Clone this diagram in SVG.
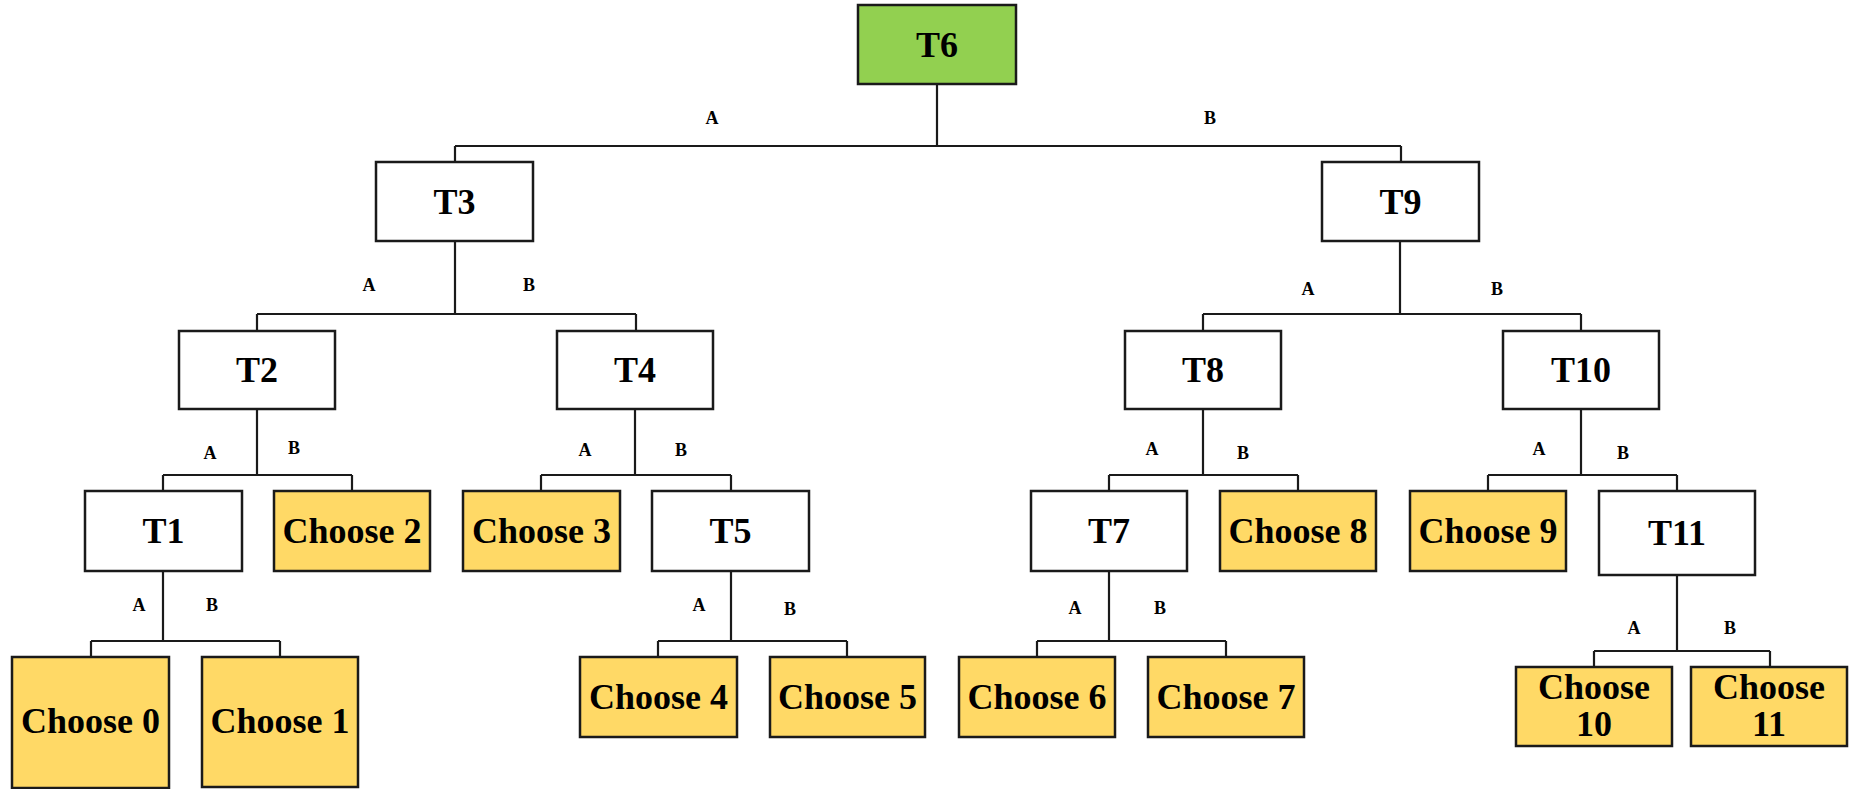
<svg xmlns="http://www.w3.org/2000/svg" width="1851" height="789" viewBox="0 0 1851 789">
<style>
.box{stroke:#1a1a1a;stroke-width:2.5}
.w{fill:#ffffff}
.y{fill:#FFD966}
.g{fill:#92D050}
.t{font-family:"Liberation Serif","Times New Roman",serif;font-weight:bold;font-size:36px;text-anchor:middle;fill:#000}
.l{font-family:"Liberation Serif","Times New Roman",serif;font-weight:bold;font-size:18px;text-anchor:middle;fill:#000}
.c{fill:none;stroke:#1a1a1a;stroke-width:2.2}
</style>
<rect width="1851" height="789" fill="#ffffff"/>
<g id="connectors">
<path class="c" d="M937,84 V146 M455,146 H1401 M455,146 V162 M1401,146 V162"/>
<path class="c" d="M455,241 V314 M257,314 H636 M257,314 V331 M636,314 V331"/>
<path class="c" d="M1400,241 V314 M1203,314 H1581 M1203,314 V331 M1581,314 V331"/>
<path class="c" d="M257,409 V475 M163,475 H352 M163,475 V491 M352,475 V491"/>
<path class="c" d="M635,409 V475 M541,475 H731 M541,475 V491 M731,475 V491"/>
<path class="c" d="M1203,409 V475 M1109,475 H1298 M1109,475 V491 M1298,475 V491"/>
<path class="c" d="M1581,409 V475 M1488,475 H1677 M1488,475 V491 M1677,475 V491"/>
<path class="c" d="M163,571 V641 M91,641 H280 M91,641 V657 M280,641 V657"/>
<path class="c" d="M731,571 V641 M658,641 H847 M658,641 V657 M847,641 V657"/>
<path class="c" d="M1109,571 V641 M1037,641 H1226 M1037,641 V657 M1226,641 V657"/>
<path class="c" d="M1677,575 V651 M1594,651 H1770 M1594,651 V667 M1770,651 V667"/>
<text class="l" x="712" y="124">A</text>
<text class="l" x="1210" y="124">B</text>
<text class="l" x="369" y="291">A</text>
<text class="l" x="529" y="291">B</text>
<text class="l" x="1308" y="295">A</text>
<text class="l" x="1497" y="295">B</text>
<text class="l" x="210" y="459">A</text>
<text class="l" x="294" y="454">B</text>
<text class="l" x="585" y="456">A</text>
<text class="l" x="681" y="456">B</text>
<text class="l" x="1152" y="455">A</text>
<text class="l" x="1243" y="459">B</text>
<text class="l" x="1539" y="455">A</text>
<text class="l" x="1623" y="459">B</text>
<text class="l" x="139" y="611">A</text>
<text class="l" x="212" y="611">B</text>
<text class="l" x="699" y="611">A</text>
<text class="l" x="790" y="615">B</text>
<text class="l" x="1075" y="614">A</text>
<text class="l" x="1160" y="614">B</text>
<text class="l" x="1634" y="634">A</text>
<text class="l" x="1730" y="634">B</text>
</g>
<g id="T6"><rect class="box g" x="858" y="5" width="158" height="79"/><text class="t" x="937" y="57">T6</text></g>
<g id="T3"><rect class="box w" x="376" y="162" width="157" height="79"/><text class="t" x="454.5" y="214">T3</text></g>
<g id="T9"><rect class="box w" x="1322" y="162" width="157" height="79"/><text class="t" x="1400.5" y="214">T9</text></g>
<g id="T2"><rect class="box w" x="179" y="331" width="156" height="78"/><text class="t" x="257" y="382">T2</text></g>
<g id="T4"><rect class="box w" x="557" y="331" width="156" height="78"/><text class="t" x="635" y="382">T4</text></g>
<g id="T8"><rect class="box w" x="1125" y="331" width="156" height="78"/><text class="t" x="1203" y="382">T8</text></g>
<g id="T10"><rect class="box w" x="1503" y="331" width="156" height="78"/><text class="t" x="1581" y="382">T10</text></g>
<g id="T1"><rect class="box w" x="85" y="491" width="157" height="80"/><text class="t" x="163.5" y="543">T1</text></g>
<g id="Choose2"><rect class="box y" x="274" y="491" width="156" height="80"/><text class="t" x="352" y="543">Choose 2</text></g>
<g id="Choose3"><rect class="box y" x="463" y="491" width="157" height="80"/><text class="t" x="541.5" y="543">Choose 3</text></g>
<g id="T5"><rect class="box w" x="652" y="491" width="157" height="80"/><text class="t" x="730.5" y="543">T5</text></g>
<g id="T7"><rect class="box w" x="1031" y="491" width="156" height="80"/><text class="t" x="1109" y="543">T7</text></g>
<g id="Choose8"><rect class="box y" x="1220" y="491" width="156" height="80"/><text class="t" x="1298" y="543">Choose 8</text></g>
<g id="Choose9"><rect class="box y" x="1410" y="491" width="156" height="80"/><text class="t" x="1488" y="543">Choose 9</text></g>
<g id="T11"><rect class="box w" x="1599" y="491" width="156" height="84"/><text class="t" x="1677" y="545">T11</text></g>
<g id="Choose0"><rect class="box y" x="12" y="657" width="157" height="131"/><text class="t" x="90.5" y="733">Choose 0</text></g>
<g id="Choose1"><rect class="box y" x="202" y="657" width="156" height="130"/><text class="t" x="280" y="733">Choose 1</text></g>
<g id="Choose4"><rect class="box y" x="580" y="657" width="157" height="80"/><text class="t" x="658.5" y="709">Choose 4</text></g>
<g id="Choose5"><rect class="box y" x="770" y="657" width="155" height="80"/><text class="t" x="847.5" y="709">Choose 5</text></g>
<g id="Choose6"><rect class="box y" x="959" y="657" width="156" height="80"/><text class="t" x="1037" y="709">Choose 6</text></g>
<g id="Choose7"><rect class="box y" x="1148" y="657" width="156" height="80"/><text class="t" x="1226" y="709">Choose 7</text></g>
<g id="Choose10"><rect class="box y" x="1516" y="667" width="156" height="79"/><text class="t" x="1594" y="699">Choose</text><text class="t" x="1594" y="736">10</text></g>
<g id="Choose11"><rect class="box y" x="1691" y="667" width="156" height="79"/><text class="t" x="1769" y="699">Choose</text><text class="t" x="1769" y="736">11</text></g>
</svg>
